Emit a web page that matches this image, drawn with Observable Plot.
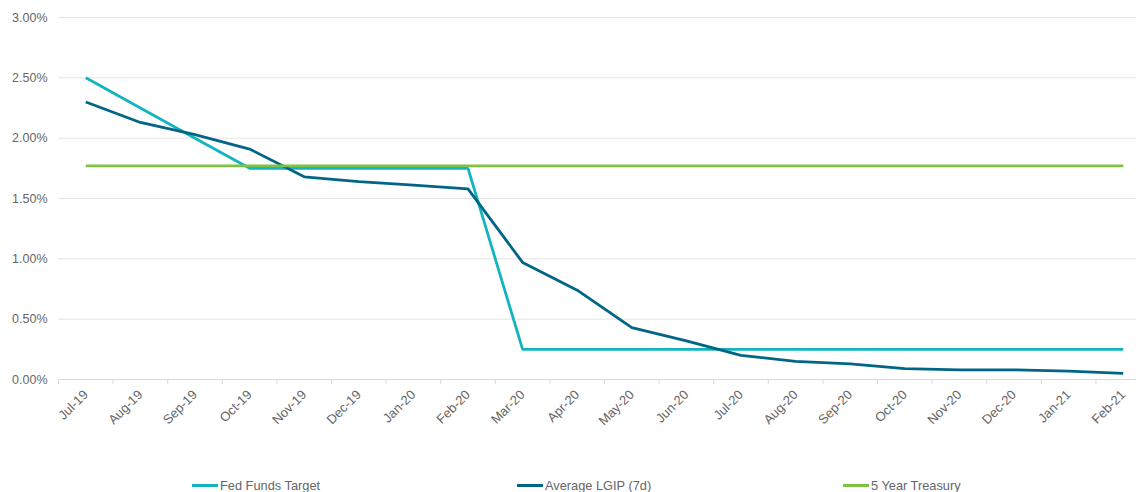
<!DOCTYPE html>
<html>
<head>
<meta charset="utf-8">
<script src="https://cdn.jsdelivr.net/npm/d3@7"></script>
<script src="https://cdn.jsdelivr.net/npm/@observablehq/plot@0.6"></script>
<style>
  html, body { margin: 0; padding: 0; background: #fff; overflow: hidden; }
  #wrap { position: relative; width: 1136px; height: 492px; font-family: "Liberation Sans", Arial, sans-serif; }
  #legend { position: absolute; left: 0; top: 478px; width: 1136px; height: 16px; }
  .item { position: absolute; top: 0; display: flex; align-items: center; font-size: 12.8px; color: #666; white-space: nowrap; }
  .sw { display: inline-block; width: 26px; height: 3px; margin-right: 2px; }
</style>
</head>
<body>
<div id="wrap"><div id="chart"></div><div id="legend"></div></div>
<script>
const months = ["Jul-19","Aug-19","Sep-19","Oct-19","Nov-19","Dec-19","Jan-20","Feb-20","Mar-20","Apr-20","May-20","Jun-20","Jul-20","Aug-20","Sep-20","Oct-20","Nov-20","Dec-20","Jan-21","Feb-21"];
const fedFunds = [2.50,2.25,2.00,1.75,1.75,1.75,1.75,1.75,0.25,0.25,0.25,0.25,0.25,0.25,0.25,0.25,0.25,0.25,0.25,0.25];
const lgip = [2.30,2.13,2.03,1.91,1.68,1.64,1.61,1.58,0.97,0.74,0.43,0.32,0.20,0.15,0.13,0.09,0.08,0.08,0.07,0.05];
const treasury = [1.77,1.77,1.77,1.77,1.77,1.77,1.77,1.77,1.77,1.77,1.77,1.77,1.77,1.77,1.77,1.77,1.77,1.77,1.77,1.77];
const yTicks = [0,0.5,1,1.5,2,2.5,3];
const seriesNames = ["Fed Funds Target","Average LGIP (7d)","5 Year Treasury"];
const seriesColors = ["#12b5bf","#006586","#7dc242"];

const idx = months.map((_, i) => i);
const boundaries = months.map((_, i) => i - 0.5);
const rows = (vals, name) => vals.map((v, i) => ({i, v, name}));
const data = [
  ...rows(fedFunds, seriesNames[0]),
  ...rows(lgip, seriesNames[1]),
  ...rows(treasury, seriesNames[2])
];

const chart = Plot.plot({
  width: 1136,
  height: 476,
  marginLeft: 58,
  marginRight: 0,
  marginTop: 17,
  marginBottom: 97,
  style: {fontFamily: "'Liberation Sans', Arial, sans-serif", fontSize: "12.5px", color: "#666", overflow: "visible"},
  x: {domain: [-0.5, 19.5], range: [58, 1150]},
  y: {domain: [0, 3]},
  color: {domain: seriesNames, range: seriesColors},
  marks: [
    Plot.ruleY(yTicks.filter(d => d > 0), {y: d => d, x1: -0.5, x2: 19.5, stroke: "#e3e3e3", strokeWidth: 1}),
    Plot.ruleX(boundaries, {x: d => d, y1: 0, y2: -0.045, stroke: "#d9d9d9"}),
    Plot.ruleY([0], {x1: -0.5, x2: 19.5, stroke: "#d9d9d9", strokeWidth: 1}),
    Plot.axisY({ticks: yTicks, tickSize: 0, tickPadding: 11, tickFormat: d => d.toFixed(2) + "%", label: null, fill: "#666"}),
    Plot.axisX({ticks: idx, tickSize: 0, tickPadding: 13, tickRotate: -45, tickFormat: i => months[i], label: null, fill: "#666", fontSize: 13}),
    Plot.line(data, {x: "i", y: "v", z: "name", stroke: "name", strokeWidth: 2.8, strokeLinejoin: "miter", strokeLinecap: "butt"})
  ]
});
document.getElementById("chart").appendChild(chart);

const legendPos = [192, 517, 843];
const legend = document.getElementById("legend");
seriesNames.forEach((n, k) => {
  const it = document.createElement("div");
  it.className = "item";
  it.style.left = legendPos[k] + "px";
  const sw = document.createElement("span");
  sw.className = "sw";
  sw.style.background = seriesColors[k];
  it.appendChild(sw);
  it.appendChild(document.createTextNode(n));
  legend.appendChild(it);
});
</script>
</body>
</html>
